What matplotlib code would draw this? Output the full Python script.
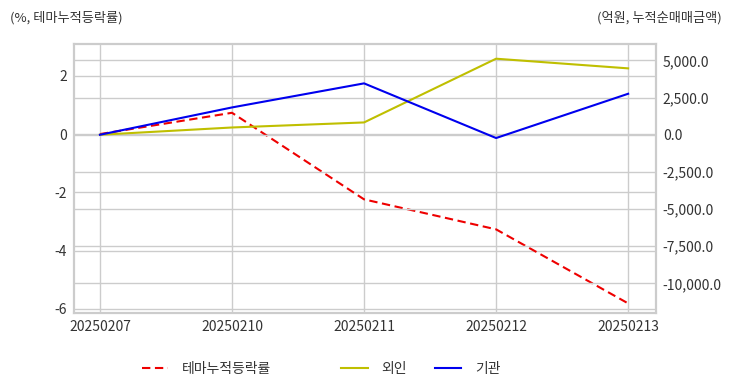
import matplotlib.pyplot as plt
from matplotlib.ticker import FuncFormatter

plt.rcParams["font.family"] = ["Noto Sans CJK KR", "DejaVu Sans"]
plt.rcParams["axes.unicode_minus"] = False

dates = ["20250207", "20250210", "20250211", "20250212", "20250213"]
theme_return = [0.0, 0.73, -2.24, -3.27, -5.81]
foreign = [0.0, 490.0, 830.0, 5120.0, 4470.0]
institution = [0.0, 1840.0, 3460.0, -220.0, 2760.0]

left_ticks = [-6, -4, -2, 0, 2]
right_ticks = [-10000, -7500, -5000, -2500, 0, 2500, 5000]

text_color = "#333333"
grid_color = "#cccccc"

fig = plt.figure(figsize=(7.32, 3.92), dpi=100)
ax = fig.add_axes([0.101, 0.2015, 0.795, 0.687])
ax2 = ax.twinx()

x = list(range(len(dates)))

red_line, = ax.plot(x, theme_return, color="#ee0000", linestyle=(0, (4, 2.2)),
                    linewidth=1.5, label="테마누적등락률", zorder=3)
olive_line, = ax2.plot(x, foreign, color="#bfbf00", linewidth=1.5, label="외인")
blue_line, = ax2.plot(x, institution, color="#0000ee", linewidth=1.5, label="기관")

ax.set_xlim(-0.197, 4.21)
ax.set_ylim(-6.14, 3.1)
ax2.set_ylim(-12000, 6130)

ax.set_xticks(x)
ax.set_xticklabels(dates)
ax.set_yticks(left_ticks)
ax2.set_yticks(right_ticks)
ax2.yaxis.set_major_formatter(FuncFormatter(lambda v, _: f"{v:,.1f}"))

ax.grid(True, color=grid_color, linewidth=1.0)
ax2.grid(True, axis="y", color=grid_color, linewidth=1.0)
ax.set_axisbelow(True)

for a in (ax, ax2):
    a.tick_params(length=0, labelsize=10, colors=text_color, pad=5)
    for s in a.spines.values():
        s.set_color(grid_color)
        s.set_linewidth(1.5)

fig.text(0.014, 0.955, "(%, 테마누적등락률)", fontsize=9.5, color=text_color,
         ha="left", va="center")
fig.text(0.986, 0.955, "(억원, 누적순매매금액)", fontsize=9.5, color=text_color,
         ha="right", va="center")

leg_kw = dict(frameon=False, fontsize=10, handlelength=1.9, handletextpad=1.0,
              labelcolor=text_color)
fig.legend(handles=[red_line], loc="center", bbox_to_anchor=(0.282, 0.058), **leg_kw)
fig.legend(handles=[olive_line, blue_line], loc="center", ncol=2, columnspacing=2.0,
           bbox_to_anchor=(0.575, 0.058), **leg_kw)

fig.savefig("out.png", dpi=100, facecolor="white")
